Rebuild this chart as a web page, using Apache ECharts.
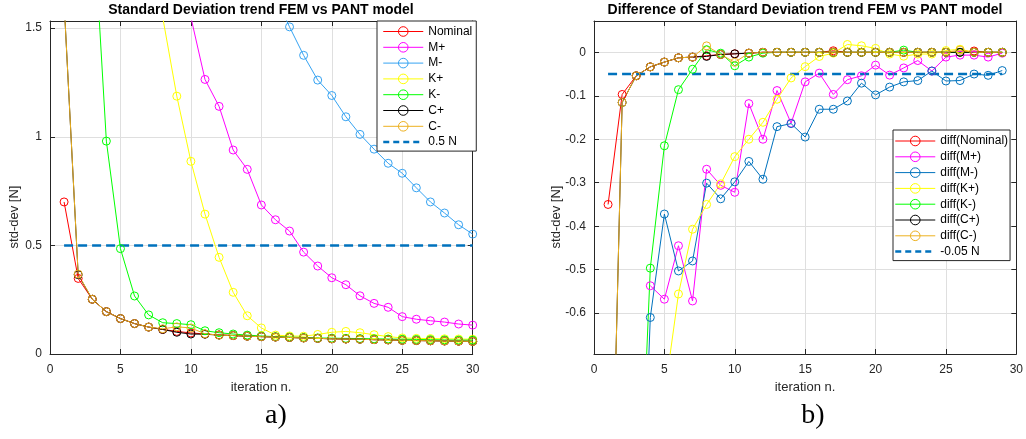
<!DOCTYPE html>
<html><head><meta charset="utf-8">
<script src="https://cdn.jsdelivr.net/npm/echarts@6/dist/echarts.min.js"></script>
<style>html,body{margin:0;padding:0;background:#fff}#c{width:1026px;height:439px}</style>
</head><body><div id="c"></div>
<script>
// ---- data ----
const iterA = [1,2,3,4,5,6,7,8,9,10,11,12,13,14,15,16,17,18,19,20,21,22,23,24,25,26,27,28,29,30];
const iterB = [1,2,3,4,5,6,7,8,9,10,11,12,13,14,15,16,17,18,19,20,21,22,23,24,25,26,27,28,29];

const stdNominal = [0.70,0.348,0.252,0.195,0.163,0.140,0.124,0.113,0.104,0.097,0.092,0.088,0.085,0.082,0.080,0.078,0.076,0.074,0.072,0.070,0.069,0.068,0.066,0.065,0.063,0.062,0.061,0.060,0.059,0.058];
const stdMplus = [null,null,null,null,null,null,null,null,null,1.55,1.264,1.14,0.939,0.85,0.686,0.618,0.566,0.469,0.405,0.351,0.319,0.268,0.233,0.215,0.172,0.16,0.153,0.147,0.138,0.133];
const stdMminus = [null,null,null,null,null,null,null,null,null,null,null,null,null,null,null,1.645,1.506,1.375,1.261,1.19,1.092,1.011,0.943,0.878,0.832,0.765,0.70,0.649,0.595,0.552];
const stdKplus = [null,null,null,null,null,null,null,1.55,1.187,0.887,0.644,0.445,0.284,0.176,0.12,0.087,0.083,0.082,0.09,0.1,0.104,0.098,0.089,0.08,0.074,0.072,0.071,0.070,0.069,0.068];
const stdKminus = [null,null,2.09,0.98,0.485,0.267,0.18,0.144,0.14,0.135,0.107,0.098,0.092,0.087,0.083,0.080,0.078,0.076,0.074,0.073,0.072,0.071,0.070,0.069,0.068,0.067,0.066,0.065,0.064,0.064];
const stdCplus = [1.62,0.365,0.252,0.195,0.163,0.140,0.124,0.113,0.100,0.092,0.091,0.087,0.085,0.082,0.080,0.078,0.076,0.074,0.072,0.070,0.069,0.068,0.066,0.065,0.063,0.062,0.061,0.060,0.059,0.058];
const stdCminus = [1.62,0.368,0.252,0.195,0.163,0.140,0.124,0.116,0.125,0.120,0.093,0.087,0.085,0.082,0.080,0.078,0.076,0.074,0.072,0.070,0.069,0.068,0.066,0.065,0.063,0.062,0.061,0.060,0.059,0.058];

const diffNominal = [-0.350,-0.097,-0.054,-0.0335,-0.0225,-0.0127,-0.011,-0.008,-0.005,-0.0035,-0.002,0,0,0,0,0,0.0035,0,0,0,0,0,0,0,0,0,0.003,0,0];
const diffMplus = [null,null,null,-0.537,-0.568,-0.445,-0.572,-0.269,-0.306,-0.322,-0.118,-0.2,-0.088,-0.163,-0.068,-0.048,-0.097,-0.063,-0.054,-0.0295,-0.0525,-0.036,-0.019,-0.043,-0.011,-0.0065,-0.0065,-0.011,-0.002];
const diffMminus = [null,null,-1.45,-0.610,-0.372,-0.503,-0.480,-0.301,-0.337,-0.298,-0.251,-0.292,-0.171,-0.164,-0.195,-0.131,-0.131,-0.112,-0.071,-0.098,-0.080,-0.068,-0.065,-0.043,-0.066,-0.065,-0.050,-0.053,-0.042];
const diffKplus = [null,null,null,null,-0.79,-0.556,-0.407,-0.350,-0.3025,-0.24,-0.2,-0.161,-0.108,-0.059,-0.033,-0.0096,-0.002,0.018,0.015,0.009,-0.004,-0.009,-0.004,-0.004,0.004,0.007,0,0,0];
const diffKminus = [null,null,-1.26,-0.4965,-0.215,-0.086,-0.039,0.006,-0.002,-0.031,-0.011,-0.002,0,0,0,0,0,0,0,0,0,0.005,0,0,0,0,0,0,0];
const diffCplus = [-1.43,-0.1155,-0.054,-0.0335,-0.0225,-0.0127,-0.011,-0.0095,-0.005,-0.0035,-0.002,0,0,0,0,0,0,0,0,0,0,0,0,0,0,0,0,0,0];
const diffCminus = [-1.43,-0.1155,-0.054,-0.0335,-0.0225,-0.0127,-0.011,0.0148,-0.005,-0.023,-0.002,0,0,0,0,0,0,0,0,0,0,0,0,0,0,0.005,0,0,0];

const limitA = 0.5, limitSpanA = [1, 30];
const limitB = -0.05, limitSpanB = [1, 29];

const xTicks = [0,5,10,15,20,25,30];
const yTicksA = [0,0.5,1,1.5];
const yTicksB = [-0.6,-0.5,-0.4,-0.3,-0.2,-0.1,0];
const xRange = [0, 30];
const yRangeA = [0, 1.533];
const yRangeB = [-0.694, 0.072];

const namesA = ['Nominal','M+','M-','K+','K-','C+','C-','0.5 N'];
const namesB = ['diff(Nominal)','diff(M+)','diff(M-)','diff(K+)','diff(K-)','diff(C+)','diff(C-)','-0.05 N'];

// ---- styling ----
const FONT = '"Liberation Sans", Arial, Helvetica, sans-serif';
const AX = '#262626';
const GRIDC = '#DFDFDF';
const colorsA = ['#FF0000','#FF00FF','#36A3F2','#FFFF00','#00FF00','#000000','#EDB120'];
const colorsB = ['#FF0000','#FF00FF','#0072BD','#FFFF00','#00FF00','#000000','#EDB120'];
const dashColor = '#0072BD';

function pairs(xs, ys) {
  const out = [];
  xs.forEach((x, i) => { if (ys[i] !== null && ys[i] !== undefined) out.push([x, ys[i]]); });
  return out;
}
function lineSeries(name, xs, ys, color, idx) {
  return {
    name, type: 'line', xAxisIndex: idx, yAxisIndex: idx,
    data: pairs(xs, ys), symbol: 'circle', symbolSize: 8, showAllSymbol: true,
    lineStyle: { color, width: 1 },
    itemStyle: { color: 'rgba(255,255,255,0)', borderColor: color, borderWidth: 1 },
    emphasis: { disabled: true }, clip: true, animation: false, silent: true
  };
}
function dashSeries(name, span, v, idx) {
  return {
    name, type: 'line', xAxisIndex: idx, yAxisIndex: idx,
    data: [[span[0], v], [span[1], v]], symbol: 'none',
    itemStyle: { color: dashColor },
    lineStyle: { color: dashColor, width: 2.5, type: [9, 5] },
    emphasis: { disabled: true }, animation: false, silent: true
  };
}
function xAx(grid, pos, labels) {
  return {
    type: 'value', gridIndex: grid, position: pos, min: xRange[0], max: xRange[1],
    axisLine: { show: true, onZero: false, lineStyle: { color: AX, width: 1 } },
    axisTick: { show: true, inside: true, length: 5, customValues: xTicks, lineStyle: { color: AX } },
    axisLabel: { show: labels, customValues: xTicks, color: AX, fontSize: 12, fontFamily: FONT, margin: 10 },
    splitLine: { show: labels, lineStyle: { color: GRIDC, width: 1 } }
  };
}
function yAx(grid, pos, range, ticks, labels) {
  return {
    type: 'value', gridIndex: grid, position: pos, min: range[0], max: range[1],
    axisLine: { show: true, onZero: false, lineStyle: { color: AX, width: 1 } },
    axisTick: { show: true, inside: true, length: 5, customValues: ticks, lineStyle: { color: AX } },
    axisLabel: { show: labels, customValues: ticks, color: AX, fontSize: 12, fontFamily: FONT, margin: 8,
      formatter: v => String(Math.round(v * 100) / 100) },
    splitLine: { show: labels, lineStyle: { color: GRIDC, width: 1 } }
  };
}
function legendData(names) {
  return names.map((n, i) => i === names.length - 1
    ? { name: n, lineStyle: { width: 2.5, type: [6, 4], color: dashColor },
        itemStyle: { color: 'rgba(0,0,0,0)', borderColor: 'rgba(0,0,0,0)', borderWidth: 0, opacity: 0 } }
    : { name: n });
}
function legend(names, left, top, padding) {
  return {
    data: legendData(names), orient: 'vertical', left, top, align: 'left',
    itemWidth: 40, itemHeight: 12, itemGap: 3.8, padding,
    backgroundColor: '#ffffff', borderColor: AX, borderWidth: 1, borderRadius: 0,
    selectedMode: false,
    textStyle: { fontSize: 12, fontFamily: FONT, color: '#000' },
    itemStyle: { borderWidth: 1 },
    lineStyle: { width: 1 }
  };
}
function txt(x, y, text, font, rot, fill) {
  return { type: 'text', x, y, rotation: rot || 0, silent: true,
    style: { text, font, fill: fill || '#000', align: 'center', verticalAlign: 'middle',
             textAlign: 'center', textVerticalAlign: 'middle' } };
}

const series = [];
[stdNominal, stdMplus, stdMminus, stdKplus, stdKminus, stdCplus, stdCminus].forEach((ys, i) =>
  series.push(lineSeries(namesA[i], iterA, ys, colorsA[i], 0)));
series.push(dashSeries(namesA[7], limitSpanA, limitA, 0));
[diffNominal, diffMplus, diffMminus, diffKplus, diffKminus, diffCplus, diffCminus].forEach((ys, i) =>
  series.push(lineSeries(namesB[i], iterB, ys, colorsB[i], 1)));
series.push(dashSeries(namesB[7], limitSpanB, limitB, 1));

const option = {
  animation: false,
  backgroundColor: '#ffffff',
  grid: [
    { left: 50, right: 553.3, top: 21, bottom: 85 },
    { left: 594, right: 9.3, top: 21, bottom: 85 }
  ],
  xAxis: [xAx(0, 'bottom', true), xAx(1, 'bottom', true), xAx(0, 'top', false), xAx(1, 'top', false)],
  yAxis: [yAx(0, 'left', yRangeA, yTicksA, true), yAx(1, 'left', yRangeB, yTicksB, true),
          yAx(0, 'right', yRangeA, yTicksA, false), yAx(1, 'right', yRangeB, yTicksB, false)],
  legend: [legend(namesA, 377, 21, [4.5, 4, 3, 5]), legend(namesB, 893, 130, [5, 2, 3, 1])],
  series,
  graphic: [
    txt(261, 10, 'Standard Deviation trend FEM vs PANT model', 'bold 14px ' + FONT),
    txt(805, 10, 'Difference of Standard Deviation trend FEM vs PANT model', 'bold 14px ' + FONT),
    txt(14, 217, 'std-dev [N]', '13px ' + FONT, Math.PI / 2, AX),
    txt(556, 217, 'std-dev [N]', '13px ' + FONT, Math.PI / 2, AX),
    txt(261, 387, 'iteration n.', '13px ' + FONT, 0, AX),
    txt(805, 387, 'iteration n.', '13px ' + FONT, 0, AX),
    txt(276, 416, 'a)', '28px "Liberation Serif", "Times New Roman", serif'),
    txt(813, 416, 'b)', '28px "Liberation Serif", "Times New Roman", serif')
  ]
};
const chart = echarts.init(document.getElementById('c'), null, { renderer: 'canvas' });
chart.setOption(option);
</script>
</body></html>
